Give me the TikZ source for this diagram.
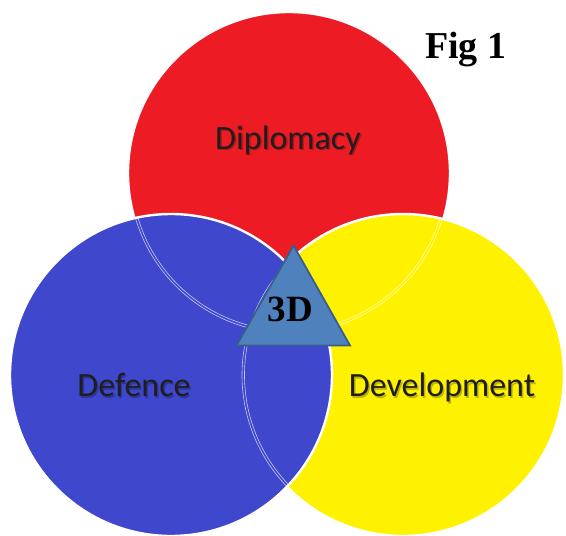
\documentclass[tikz,border=0pt]{standalone}
\usepackage{fontspec}
\setmainfont{Liberation Serif}
\newfontfamily\labelfont{Carlito}

\definecolor{dipred}{RGB}{237,28,36}
\definecolor{defblue}{RGB}{63,72,204}
\definecolor{devyellow}{RGB}{255,242,0}
\definecolor{tribody}{RGB}{79,129,189}
\definecolor{triedge}{RGB}{56,93,138}
\definecolor{labelink}{RGB}{30,30,30}

\tikzset{
  venn/.style={circle, draw=white, line width=2.4pt, minimum size=322pt, inner sep=0pt},
  ghost/.style={draw=white, line width=0.6pt, opacity=0.7},
  lbl/.style={font=\labelfont\fontsize{34}{34}\selectfont, text=labelink, anchor=base, inner sep=0pt},
  lblshadow/.style={font=\labelfont\fontsize{34}{34}\selectfont, text=black, opacity=0.25, anchor=base, inner sep=0pt},
  title/.style={font=\bfseries\fontsize{38}{38}\selectfont, text=black, inner sep=0pt},
}

\begin{document}
\begin{tikzpicture}[x=1pt, y=-1pt]
  \useasboundingbox (0,0) rectangle (566,536);
  \clip (0,0) rectangle (566,536);

  % the three circles, stacked red, yellow, blue
  \node[venn, fill=dipred]    (dip) at (289,173) {};
  \node[venn, fill=devyellow] (dev) at (403,375) {};
  \node[venn, fill=defblue]   (def) at (171,375) {};

  % faint double outlines of the covered circles
  \begin{scope}
    \clip (def.center) circle (161pt);
    \draw[ghost] (dip.center) circle (160pt);
    \draw[ghost] (dip.center) circle (157.5pt);
    \draw[ghost] (dev.center) circle (161pt);
    \draw[ghost] (dev.center) circle (158.5pt);
  \end{scope}
  \begin{scope}
    \clip (dev.center) circle (161pt);
    \draw[ghost] (dip.center) circle (160pt);
    \draw[ghost] (dip.center) circle (157.5pt);
  \end{scope}

  % circle labels
  \node[lblshadow] at (289.5,150.5) {Diplomacy};
  \node[lbl] (diplabel) at (288,149) {Diplomacy};
  \node[lblshadow] at (135.5,398) {Defence};
  \node[lbl] (deflabel) at (134,396.5) {Defence};
  \node[lblshadow] at (443.5,398) {Development};
  \node[lbl] (devlabel) at (442,396.5) {Development};

  % central triangle
  \coordinate (apex) at (293.5,245.5);
  \coordinate (bl) at (236.5,345.5);
  \coordinate (br) at (350,345.5);
  \filldraw[fill=tribody, draw=triedge, line width=1.8pt] (apex) -- (bl) -- (br) -- cycle;
  \node[title, anchor=base, font=\bfseries\fontsize{37}{37}\selectfont] (three) at (290.5,321.5) {3D};

  % figure caption
  \node[title, anchor=base west] (fig) at (425,58) {Fig 1};
\end{tikzpicture}
\end{document}
